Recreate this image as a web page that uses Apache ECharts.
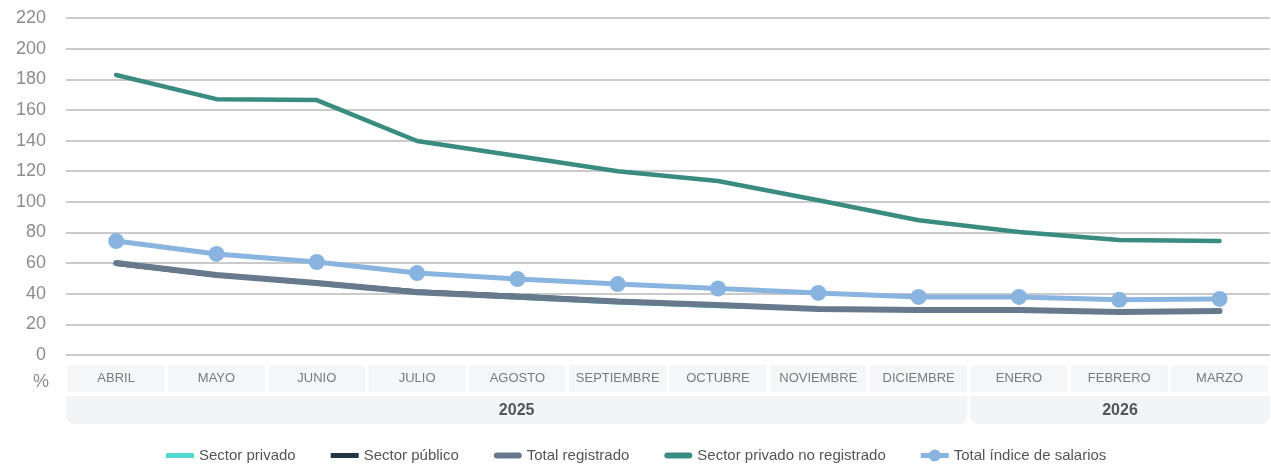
<!DOCTYPE html>
<html>
<head>
<meta charset="utf-8">
<script src="https://cdn.jsdelivr.net/npm/echarts@6/dist/echarts.min.js"></script>
<style>
  html, body { margin: 0; padding: 0; background: #fff; }
  #main { width: 1271px; height: 464px; }
</style>
</head>
<body>
<div id="main"></div>
<script>
// meses y años
var months = ['ABRIL', 'MAYO', 'JUNIO', 'JULIO', 'AGOSTO', 'SEPTIEMBRE', 'OCTUBRE', 'NOVIEMBRE', 'DICIEMBRE', 'ENERO', 'FEBRERO', 'MARZO']
var years = [
  { label: '2025', from: 'ABRIL', to: 'DICIEMBRE' },
  { label: '2026', from: 'ENERO', to: 'MARZO' }
]

// series (%)
var sectorPrivado = [61, 52, 46, 40.5, 37, 34, 31.5, 30, 29, 29, 28, 28]
var sectorPublico = [59, 51.5, 47.5, 42, 39, 35.5, 33, 30.5, 29.5, 30, 28, 29]
var totalRegistrado = [60, 52.2, 47, 41, 38, 35, 32.6, 30, 29.4, 29.4, 28, 28.7]
var privadoNoRegistrado = [182.8, 167, 166.4, 139.7, 129.9, 120, 113.6, 101, 88, 80.3, 75, 74.4]
var totalIndice = [74.4, 66, 60.7, 53.5, 49.6, 46.3, 43.4, 40.5, 37.9, 37.9, 36, 36.6]

var font = "'Liberation Sans', Arial, sans-serif"

// iconos de leyenda (28 x 12)
var iconRect = 'path://M0 0h.01v.01H0z M0 3.5h28v5H0z M27.99 11.99h.01v.01h-.01z'
var iconPill = 'path://M0 0h.01v.01H0z M3 3h22a3 3 0 0 1 0 6H3a3 3 0 0 1 0-6z M27.99 11.99h.01v.01h-.01z'
var iconDot = 'path://M0 3.5H8.55A6 6 0 0 1 19.45 3.5H28V8.5H19.45A6 6 0 0 1 8.55 8.5H0Z'

var myChart = echarts.init(document.getElementById('main'))

var options = {
  animation: false,
  grid: { left: 66, right: 0, top: 18, bottom: 109 },
  legend: {
    left: 161,
    top: 443,
    itemWidth: 28,
    itemHeight: 12,
    itemGap: 35,
    textStyle: { fontFamily: font, fontSize: 15, color: '#555' },
    data: [
      { name: 'Sector privado', icon: iconRect },
      { name: 'Sector público', icon: iconRect },
      { name: 'Total registrado', icon: iconPill },
      { name: 'Sector privado no registrado', icon: iconPill },
      { name: 'Total índice de salarios', icon: iconDot }
    ]
  },
  xAxis: {
    type: 'category',
    data: months,
    boundaryGap: true,
    axisLine: { show: false },
    axisTick: { show: false },
    axisLabel: {
      interval: 0,
      margin: 10,
      fontFamily: font,
      fontSize: 13,
      color: '#7a7a7a',
      backgroundColor: '#f5f6f8',
      width: 97,
      height: 27,
      lineHeight: 27,
      align: 'center'
    }
  },
  yAxis: {
    type: 'value',
    min: 0,
    max: 220,
    interval: 20,
    axisLine: { show: false },
    axisTick: { show: false },
    axisLabel: {
      margin: 20,
      fontFamily: font,
      fontSize: 18,
      color: '#8c8c8c'
    },
    splitLine: { lineStyle: { color: '#b8b8b8', width: 1.5 } }
  },
  series: [
    {
      name: 'Sector privado',
      type: 'line',
      data: sectorPrivado,
      symbol: 'none',
      color: '#4fd8cc',
      lineStyle: { width: 3, color: '#4fd8cc' }
    },
    {
      name: 'Sector público',
      type: 'line',
      data: sectorPublico,
      symbol: 'none',
      color: '#253548',
      lineStyle: { width: 3, color: '#253548' }
    },
    {
      name: 'Total registrado',
      type: 'line',
      data: totalRegistrado,
      symbol: 'none',
      color: '#66798d',
      lineStyle: { width: 6, color: '#66798d', cap: 'round' }
    },
    {
      name: 'Sector privado no registrado',
      type: 'line',
      data: privadoNoRegistrado,
      symbol: 'none',
      color: '#3a8c80',
      lineStyle: { width: 4.5, color: '#3a8c80', cap: 'round' }
    },
    {
      name: 'Total índice de salarios',
      type: 'line',
      data: totalIndice,
      symbol: 'circle',
      symbolSize: 16,
      color: '#8ab4e0',
      itemStyle: { color: '#8ab4e0' },
      lineStyle: { width: 5, color: '#8ab4e0' }
    }
  ]
}

myChart.setOption(options)

// fila de años debajo de los meses
var band = myChart.convertToPixel({ xAxisIndex: 0 }, 'MAYO') - myChart.convertToPixel({ xAxisIndex: 0 }, 'ABRIL')
var graphics = []
years.forEach(function (y, i) {
  var x0 = myChart.convertToPixel({ xAxisIndex: 0 }, y.from) - band / 2 + (i > 0 ? 1.5 : 0)
  var x1 = myChart.convertToPixel({ xAxisIndex: 0 }, y.to) + band / 2 - (i < years.length - 1 ? 1.5 : 0)
  graphics.push({
    type: 'rect',
    shape: { x: x0, y: 396, width: x1 - x0, height: 28, r: [0, 0, 8, 8] },
    style: { fill: '#f3f4f6' },
    z: 0
  })
  graphics.push({
    type: 'text',
    x: (x0 + x1) / 2,
    y: 411,
    style: {
      text: y.label,
      fill: '#555',
      font: "bold 16px 'Liberation Sans', Arial, sans-serif",
      textAlign: 'center',
      textVerticalAlign: 'middle'
    }
  })
})
graphics.push({
  type: 'text',
  x: 41,
  y: 382,
  style: {
    text: '%',
    fill: '#8c8c8c',
    font: "18px 'Liberation Sans', Arial, sans-serif",
    textAlign: 'center',
    textVerticalAlign: 'middle'
  }
})
myChart.setOption({ graphic: graphics })
</script>
</body>
</html>
